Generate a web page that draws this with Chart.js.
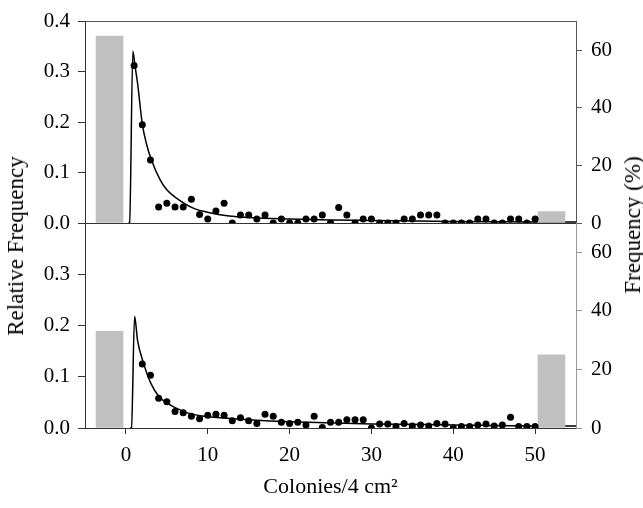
<!DOCTYPE html>
<html><head><meta charset="utf-8">
<script src="https://cdn.jsdelivr.net/npm/chart.js@4.4.1/dist/chart.umd.min.js"></script>
<style>
html,body{margin:0;padding:0;background:#fff;}
#wrap{position:relative;width:643px;height:508px;overflow:hidden;background:#fff;}
canvas{position:absolute;left:0;top:0;}
.ytitle{position:absolute;font-family:'Liberation Serif','Times New Roman',serif;font-size:23px;color:#000;white-space:nowrap;transform:translate(-50%,-50%) rotate(-90deg);}
</style></head><body>
<div id="wrap">
<canvas id="top" width="643" height="245"></canvas>
<canvas id="bot" width="643" height="508"></canvas>
<div class="ytitle" style="left:16px;top:246px">Relative Frequency</div>
<div class="ytitle" style="left:633px;top:225px">Frequency (%)</div>
</div>
<script>
// ---- data ----
const counts = [1,2,3,4,5,6,7,8,9,10,11,12,13,14,15,16,17,18,19,20,21,22,23,24,25,26,27,28,29,30,31,32,33,34,35,36,37,38,39,40,41,42,43,44,45,46,47,48,49,50];
const topRel = [0.313,0.195,0.125,0.032,0.039,0.032,0.032,0.047,0.017,0.008,0.024,0.039,0.000,0.016,0.016,0.008,0.016,0.000,0.008,0.000,0.000,0.008,0.008,0.016,0.000,0.031,0.016,0.000,0.008,0.008,0.000,0.000,0.000,0.008,0.008,0.016,0.016,0.016,0.000,0.000,0.000,0.000,0.008,0.008,0.000,0.000,0.008,0.008,0.000,0.008];
const botRel = [null,0.125,0.103,0.058,0.051,0.032,0.030,0.023,0.018,0.025,0.027,0.025,0.014,0.020,0.014,0.009,0.027,0.023,0.011,0.009,0.011,0.006,0.023,0.001,0.011,0.011,0.016,0.016,0.016,0.000,0.008,0.008,0.003,0.009,0.004,0.006,0.004,0.009,0.008,0.000,0.003,0.003,0.006,0.008,0.004,0.006,0.021,0.003,0.003,0.003];
const topFitX = [0.3,0.45,0.85,1.1,1.42,2,2.5,3.1,4.2,5,6.3,8.3,10.4,12.6,15,20,25,30,40,50,55];
const topFitY = [0,0.001,0.341,0.313,0.278,0.197,0.158,0.126,0.085,0.066,0.048,0.029,0.020,0.014,0.011,0.008,0.006,0.005,0.003,0.002,0.002];
const botFitX = [0.5,0.68,1.06,1.42,2.1,3.05,4.06,5.08,7.1,9.1,12.4,15,20,25,30,40,50,55];
const botFitY = [0,0.001,0.218,0.171,0.129,0.087,0.061,0.048,0.032,0.024,0.019,0.016,0.012,0.010,0.008,0.006,0.004,0.004];
const barX = [-2,52];
const topBarPct = [65,4];
const botBarPct = [33,25];
const xTicks = [0,10,20,30,40,50];
const leftTicksTop = [0,0.1,0.2,0.3,0.4];
const leftTicksBot = [0,0.1,0.2,0.3];
const rightTicks = [0,20,40,60];

// ---- helpers ----
const FONT = {family:"'Liberation Serif','Times New Roman',serif", size:21};
const pts = (xs, ys) => xs.map((x,i)=>({x:x, y:ys[i]}));
const setTicks = vals => axis => { axis.ticks = vals.map(v=>({value:v})); };

function datasets(rel, fx, fy, bars){
  return [
    {type:'line', data:pts(fx,fy), xAxisID:'x', yAxisID:'y', borderColor:'#000', borderWidth:1.5,
     pointRadius:0, cubicInterpolationMode:'monotone', fill:false, order:2},
    {type:'bar', data:pts(barX,bars), xAxisID:'x', yAxisID:'yR', backgroundColor:'#c0c0c0',
     borderWidth:0, barThickness:27, grouped:false, order:1},
    {type:'line', data:pts(counts,rel), xAxisID:'x', yAxisID:'y', showLine:false, pointRadius:3.5,
     pointBackgroundColor:'#000', pointBorderWidth:0, spanGaps:false, order:0}
  ];
}
function yAxes(leftTicks, rightColor){
  return {
    y:{position:'left', min:0, max:0.4, afterBuildTicks:setTicks(leftTicks),
       afterFit:a=>{a.width=85;},
       ticks:{font:FONT, color:'#000', padding:8, callback:v=>Number(v).toFixed(1)},
       grid:{drawOnChartArea:false, tickLength:7, color:'#333'},
       border:{display:true, color:'#333', width:1}},
    yR:{position:'right', min:0, max:70, afterBuildTicks:setTicks(rightTicks),
       afterFit:a=>{a.width=67;},
       ticks:{font:FONT, color:'#000', padding:9, callback:v=>String(v)},
       grid:{drawOnChartArea:false, tickLength:6, color:rightColor},
       border:{display:true, color:rightColor, width:1}}
  };
}
const common = {responsive:false, animation:false, events:[],
  plugins:{legend:{display:false}, tooltip:{enabled:false}}};

// ---- top panel ----
const topScales = Object.assign({
  x:{type:'linear', position:'bottom', min:-5, max:55, offset:false, afterFit:a=>{a.height=0;},
     ticks:{display:false}, grid:{display:false, offset:false}, border:{display:true, color:'#333', width:1}},
  xTop:{type:'linear', position:'top', min:-5, max:55, offset:false, afterFit:a=>{a.height=0;},
     ticks:{display:false}, grid:{display:false, offset:false}, border:{display:true, color:'#555', width:1}}
}, yAxes(leftTicksTop, '#555'));
new Chart(document.getElementById('top'), {
  type:'line',
  data:{datasets:datasets(topRel, topFitX, topFitY, topBarPct)},
  options:Object.assign({}, common, {layout:{padding:{top:17,bottom:22,left:0,right:0}}, scales:topScales})
});

// ---- bottom panel ----
const botScales = Object.assign({
  x:{type:'linear', position:'bottom', min:-5, max:55, offset:false, afterBuildTicks:setTicks(xTicks),
     afterFit:a=>{a.height=72;},
     ticks:{font:FONT, color:'#000', padding:9, maxRotation:0, autoSkip:false, callback:v=>String(v)},
     grid:{drawOnChartArea:false, offset:false, tickLength:6, color:'#333'},
     border:{display:true, color:'#333', width:1},
     title:{display:true, text:'Colonies/4 cm²', color:'#000', padding:0,
            font:{family:FONT.family, size:22}}}
}, yAxes(leftTicksBot, '#999'));
new Chart(document.getElementById('bot'), {
  type:'line',
  data:{datasets:datasets(botRel, botFitX, botFitY, botBarPct)},
  options:Object.assign({}, common, {layout:{padding:{top:223,bottom:8,left:0,right:0}}, scales:botScales})
});
</script>
</body></html>
